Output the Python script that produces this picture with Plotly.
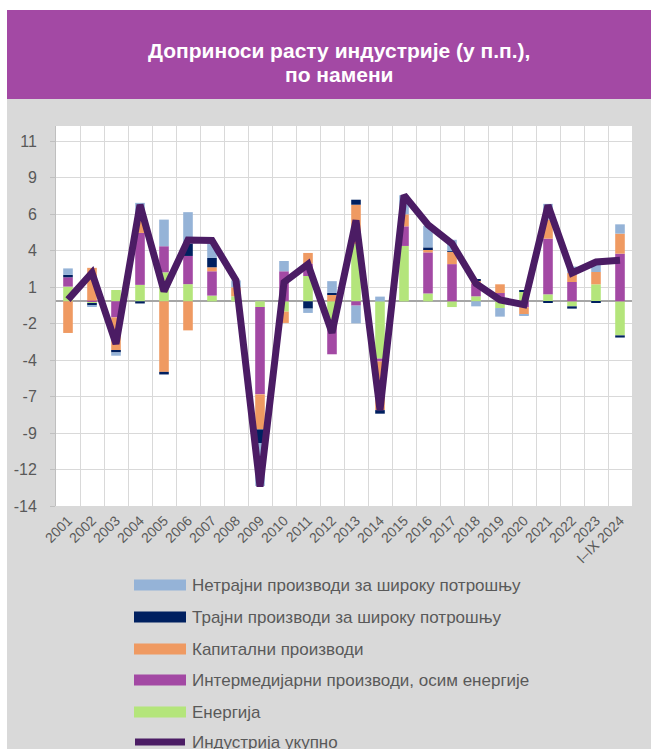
import plotly.graph_objects as go

# ---------------- data ----------------
years = ["2001", "2002", "2003", "2004", "2005", "2006", "2007", "2008", "2009", "2010",
         "2011", "2012", "2013", "2014", "2015", "2016", "2017", "2018", "2019", "2020",
         "2021", "2022", "2023", "I–IX 2024"]

energy = [1.03, -0.15, 0.79, 1.15, 2.03, 1.20, 0.40, 0.35, -0.40, -0.72,
          1.77, -1.50, 4.00, -4.00, 3.87, 0.55, -0.40, 0.35, -0.47, 0.70,
          0.49, -0.35, 1.19, -2.38]
intermediate = [0.65, 0.05, -1.12, 3.63, 1.82, 1.97, 1.70, 0.00, -6.10, 2.10,
                0.86, -2.20, -0.30, -0.20, 1.37, 2.87, 2.60, 0.90, 0.58, -0.42,
                3.89, 1.35, 0.00, 3.33]
capital = [-2.21, 2.29, -2.33, 1.05, -4.93, -2.03, 0.28, 0.63, -2.45, -0.79,
           0.75, 0.47, 2.75, -3.40, 0.84, 0.23, 0.85, 0.20, 0.61, -0.51,
           1.33, 0.63, 0.86, 1.40]
durable = [0.17, -0.13, -0.12, -0.15, -0.18, 0.86, 0.65, 0.00, -0.95, 0.00,
           -0.51, 0.12, 0.35, -0.25, 0.00, 0.12, 0.05, 0.10, 0.00, 0.07,
           -0.08, -0.16, -0.08, -0.15]
nondurable = [0.45, -0.10, -0.23, 1.05, 1.86, 2.20, 0.98, 0.48, -3.00, 0.72,
              -0.30, 0.82, -1.24, 0.33, 1.33, 1.51, 0.80, -0.35, -0.60, -0.05,
              1.10, 0.45, 0.54, 0.65]
total = [0.12, 2.00, -2.97, 6.75, 0.70, 4.28, 4.25, 1.47, -12.95, 1.33,
         2.59, -2.20, 5.66, -7.60, 7.41, 5.35, 4.03, 1.24, 0.10, -0.23,
         6.71, 1.98, 2.75, 2.87]

y_tick_labels = ["-14", "-12", "-9", "-7", "-4", "-2", "1", "4", "6", "9", "11"]

title_lines = ["Доприноси расту индустрије (у п.п.),", "по намени"]
names = {
    "nondurable": "Нетрајни производи за широку потрошњу",
    "durable": "Трајни производи за широку потрошњу",
    "capital": "Капитални производи",
    "intermediate": "Интермедијарни производи, осим енергије",
    "energy": "Енергија",
    "total": "Индустрија укупно",
}
colors = {
    "nondurable": "#95b3d7",
    "durable": "#002060",
    "capital": "#ef9a62",
    "intermediate": "#a349a4",
    "energy": "#b4e57b",
    "total": "#4b1c64",
}

# ---------------- geometry ----------------
W, H = 651, 749
L, R, T, B = 56, 19, 126, 243
PW, PH = W - L - R, H - T - B


def px(x):
    return (x - L) / PW


def py(y):
    return (H - B - y) / PH


y_min, y_step = -14.3, 2.55
y_tickvals = [y_min + i * y_step for i in range(len(y_tick_labels))]

fig = go.Figure()
series = [("energy", energy), ("intermediate", intermediate), ("capital", capital),
          ("durable", durable), ("nondurable", nondurable)]
for key, vals in series:
    fig.add_trace(go.Bar(x=years, y=vals, name=names[key], marker_color=colors[key],
                         marker_line_width=0, showlegend=False))
fig.add_trace(go.Scatter(x=years, y=total, name=names["total"], mode="lines",
                         line=dict(color=colors["total"], width=7), showlegend=False))

shapes = [
    dict(type="rect", xref="paper", yref="paper", x0=px(0), x1=px(7), y0=py(H), y1=py(0),
         fillcolor="white", line_width=0, layer="below"),
    dict(type="rect", xref="paper", yref="paper", x0=px(0), x1=px(W), y0=py(10), y1=py(0),
         fillcolor="white", line_width=0, layer="below"),
    dict(type="rect", xref="paper", yref="paper", x0=px(7), x1=px(W), y0=py(99), y1=py(10),
         fillcolor="#a349a4", line_width=0, layer="below"),
]
annotations = [
    dict(xref="paper", yref="paper", x=px(339), y=py(51), text="<b>%s</b>" % title_lines[0],
         showarrow=False, xanchor="center", yanchor="middle",
         font=dict(family="Liberation Sans", size=21, color="white")),
    dict(xref="paper", yref="paper", x=px(339), y=py(75), text="<b>%s</b>" % title_lines[1],
         showarrow=False, xanchor="center", yanchor="middle",
         font=dict(family="Liberation Sans", size=21, color="white")),
]

legend_keys = ["nondurable", "durable", "capital", "intermediate", "energy", "total"]
legend_rows = [585, 617, 649, 680, 712, 742]
for key, yy in zip(legend_keys, legend_rows):
    if key == "total":
        shapes.append(dict(type="line", xref="paper", yref="paper", x0=px(135), x1=px(185),
                           y0=py(yy), y1=py(yy), line=dict(color=colors[key], width=7)))
    else:
        shapes.append(dict(type="rect", xref="paper", yref="paper", x0=px(134), x1=px(186),
                           y0=py(yy + 5.5), y1=py(yy - 5.5), fillcolor=colors[key], line_width=0))
    annotations.append(dict(xref="paper", yref="paper", x=px(190), y=py(yy), text=names[key],
                            showarrow=False, xanchor="left", yanchor="middle",
                            font=dict(family="Liberation Sans", size=17, color="#595959")))

fig.update_layout(
    width=W, height=H, autosize=False,
    margin=dict(l=L, r=R, t=T, b=B, pad=0),
    paper_bgcolor="#d9d9d9", plot_bgcolor="white",
    barmode="relative", bargap=0.6,
    shapes=shapes, annotations=annotations,
    showlegend=False,
    font=dict(family="Liberation Sans", color="#595959"),
)
fig.update_xaxes(type="category", tickson="boundaries", showgrid=True, gridcolor="#d9d9d9",
                 gridwidth=1, tickangle=-45, tickfont=dict(size=14, color="#595959"),
                 ticks="", range=[-0.5, len(years) - 0.5], showline=True, linecolor="#d9d9d9",
                 mirror=True)
fig.update_yaxes(range=[y_min, 12.25], tickmode="array", tickvals=y_tickvals,
                 ticktext=y_tick_labels, showgrid=True, gridcolor="#d9d9d9", gridwidth=1,
                 zeroline=True, zerolinecolor="#a6a6a6", zerolinewidth=1.5,
                 showline=True, linecolor="#bfbfbf", ticks="outside", ticklen=5,
                 tickcolor="#bfbfbf", ticklabelstandoff=10,
                 tickfont=dict(size=16, color="#595959"))

fig.write_html("out.html", config={"displayModeBar": False},
               post_script="document.body.style.margin='0px';"
                           "document.body.style.overflow='hidden';")
